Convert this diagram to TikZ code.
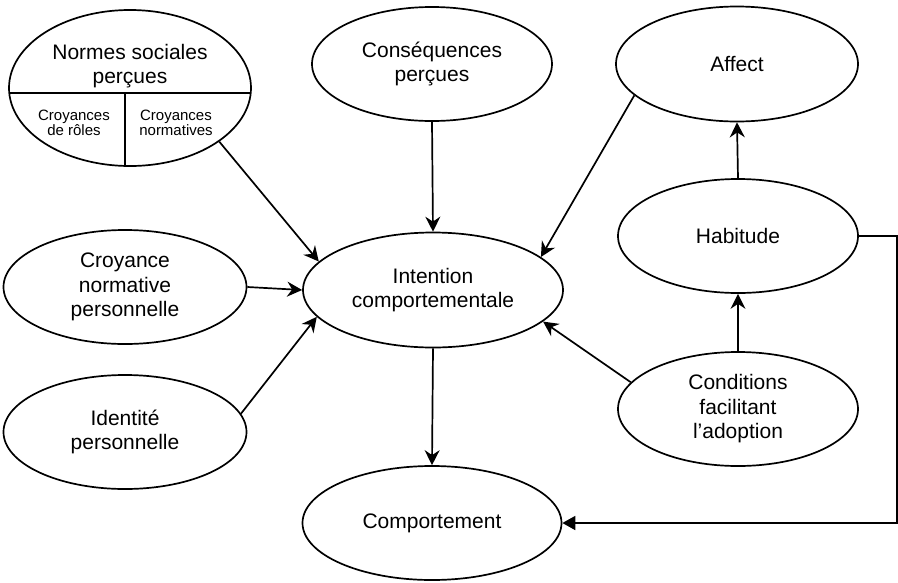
\documentclass[tikz,border=0pt]{standalone}
\usepackage{fontspec}
\setmainfont{Liberation Sans}
\usetikzlibrary{shapes.geometric,arrows.meta}
\tikzset{
  ell/.style={ellipse, draw, line width=1.7pt, inner sep=0pt, align=center,
    font=\fontsize{21}{24.5}\selectfont},
  small/.style={align=center, inner sep=0pt, font=\fontsize{15}{15.5}\selectfont},
  big/.style={align=center, inner sep=0pt, font=\fontsize{21}{24.5}\selectfont},
  conn/.style={line width=1.7pt, -{Stealth[length=15pt, width=15pt, inset=5pt]}},
  conn2/.style={line width=1.7pt, -{Triangle[length=13pt, width=14pt]}}
}
\begin{document}
\begin{tikzpicture}[x=1pt, y=-1pt]
\useasboundingbox (0,0) rectangle (898,582);

% Normes sociales perçues
\node[ell, minimum width=242pt, minimum height=156pt] (normes) at (130,88) {};
\begin{scope}
  \clip (130,88) ellipse [x radius=121, y radius=78];
  \draw[line width=1.7pt] (0,93) -- (260,93);
  \draw[line width=1.7pt] (125,93) -- (125,200);
\end{scope}
\node[big] (normestxt) at (130,66) {Normes sociales\\perçues};
\node[small] (roles) at (74,123) {Croyances\\de rôles};
\node[small] (normatives) at (176,123) {Croyances\\normatives};

\node[ell, minimum width=240pt, minimum height=114pt] (cons) at (432,64) {Conséquences\\perçues};
\node[ell, minimum width=242pt, minimum height=115pt] (affect) at (737,64) {Affect};
\node[ell, minimum width=240pt, minimum height=114pt] (hab) at (738,236) {Habitude};
\node[ell, minimum width=240pt, minimum height=114pt] (cond) at (738,409) {Conditions\\facilitant\\l’adoption};
\node[ell, minimum width=260pt, minimum height=115pt] (int) at (433,290) {Intention\\comportementale};
\node[ell, minimum width=259pt, minimum height=114pt] (comp) at (432,523) {Comportement};
\node[ell, minimum width=243pt, minimum height=114pt] (croy) at (125,287) {Croyance\\normative\\personnelle};
\node[ell, minimum width=243pt, minimum height=114pt] (ident) at (125,432) {Identité\\personnelle};

% connectors
\draw[conn] (cons.south) -- (int.north);
\draw[conn] (normes.-31.5) -- (int.166.5);
\draw[conn] (croy.east) -- (int.west);
\draw[conn] (ident.9.5) -- (int.193.5);
\draw[conn] (affect.197.8) -- (int.17.5);
\draw[conn] (cond.166.7) -- (int.-16.2);
\draw[conn] (int.south) -- (comp.north);
\draw[conn] (cond.north) -- (hab.south);
\draw[conn] (hab.north) -- (affect.south);
\draw[conn2] (hab.east) -- ++(38,0) |- (comp.east);
\end{tikzpicture}
\end{document}
